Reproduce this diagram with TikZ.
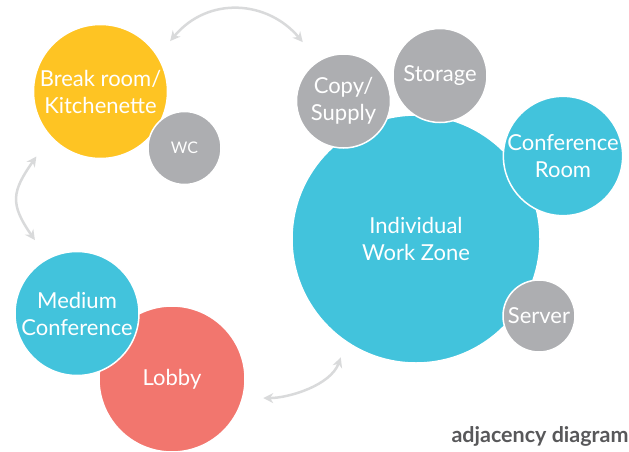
\documentclass[tikz,border=0pt]{standalone}
\usepackage{fontspec}
\setmainfont{Lato}
\usetikzlibrary{arrows.meta}

\definecolor{roomyellow}{RGB}{254,196,35}
\definecolor{roomcyan}{RGB}{66,195,220}
\definecolor{roomgray}{RGB}{173,174,177}
\definecolor{roomred}{RGB}{242,118,110}
\definecolor{linkgray}{RGB}{217,218,219}
\definecolor{titlegray}{RGB}{88,88,90}

\begin{document}
\begin{tikzpicture}[x=1pt,y=1pt,
  room/.style={circle,draw=white,line width=1.5pt,inner sep=0pt,text=white,align=center,
               font=\fontsize{22}{27}\selectfont},
  link/.style={{Stealth[length=10pt,width=10pt]}-{Stealth[length=10pt,width=10pt]},
               draw=linkgray,line width=2.5pt}]
 \useasboundingbox (0,0) rectangle (629,451);

 % work zone and its satellites
 \node[room,fill=roomcyan,minimum size=248pt,name=iwz]     at (416,212)   {Individual\\Work Zone};
 \node[room,fill=roomgray,minimum size=94pt, name=copy]    at (343.5,350) {Copy/\\Supply};
 \node[room,fill=roomgray,minimum size=94pt, name=storage] at (440,375.5) {Storage};
 \node[room,fill=roomcyan,minimum size=118pt,name=confroom] at (563,295)  {Conference\\Room};
 \node[room,fill=roomgray,minimum size=72pt, name=server]  at (539,135)   {Server};

 % break room
 \node[room,fill=roomyellow,minimum size=134pt,name=brk] at (100.5,359.5) {Break room/\\Kitchenette};
 \node[room,fill=roomgray,minimum size=73pt,name=wc,font=\fontsize{16}{20}\selectfont] at (184.5,303) {WC};

 % entry
 \node[room,fill=roomred, minimum size=146pt,name=lobby]   at (172,72)    {Lobby};
 \node[room,fill=roomcyan,minimum size=124pt,name=medconf] at (77,137.5)  {Medium\\Conference};

 \draw[link,shorten <=19pt,shorten >=24pt] (brk.32)    to[out=50, in=130,looseness=1.25] (copy.122);
 \draw[link,shorten <=24pt,shorten >=22pt] (brk.222)   to[out=235,in=125,looseness=1.4] (medconf.118);
 \draw[link,shorten <=20pt,shorten >=16pt] (lobby.345) to[out=0,  in=250]               (iwz.236);

 \node[anchor=base west,text=titlegray,font=\fontsize{21.5}{26}\bfseries\selectfont,name=title] at (448,9) {adjacency diagram};

\end{tikzpicture}
\end{document}
